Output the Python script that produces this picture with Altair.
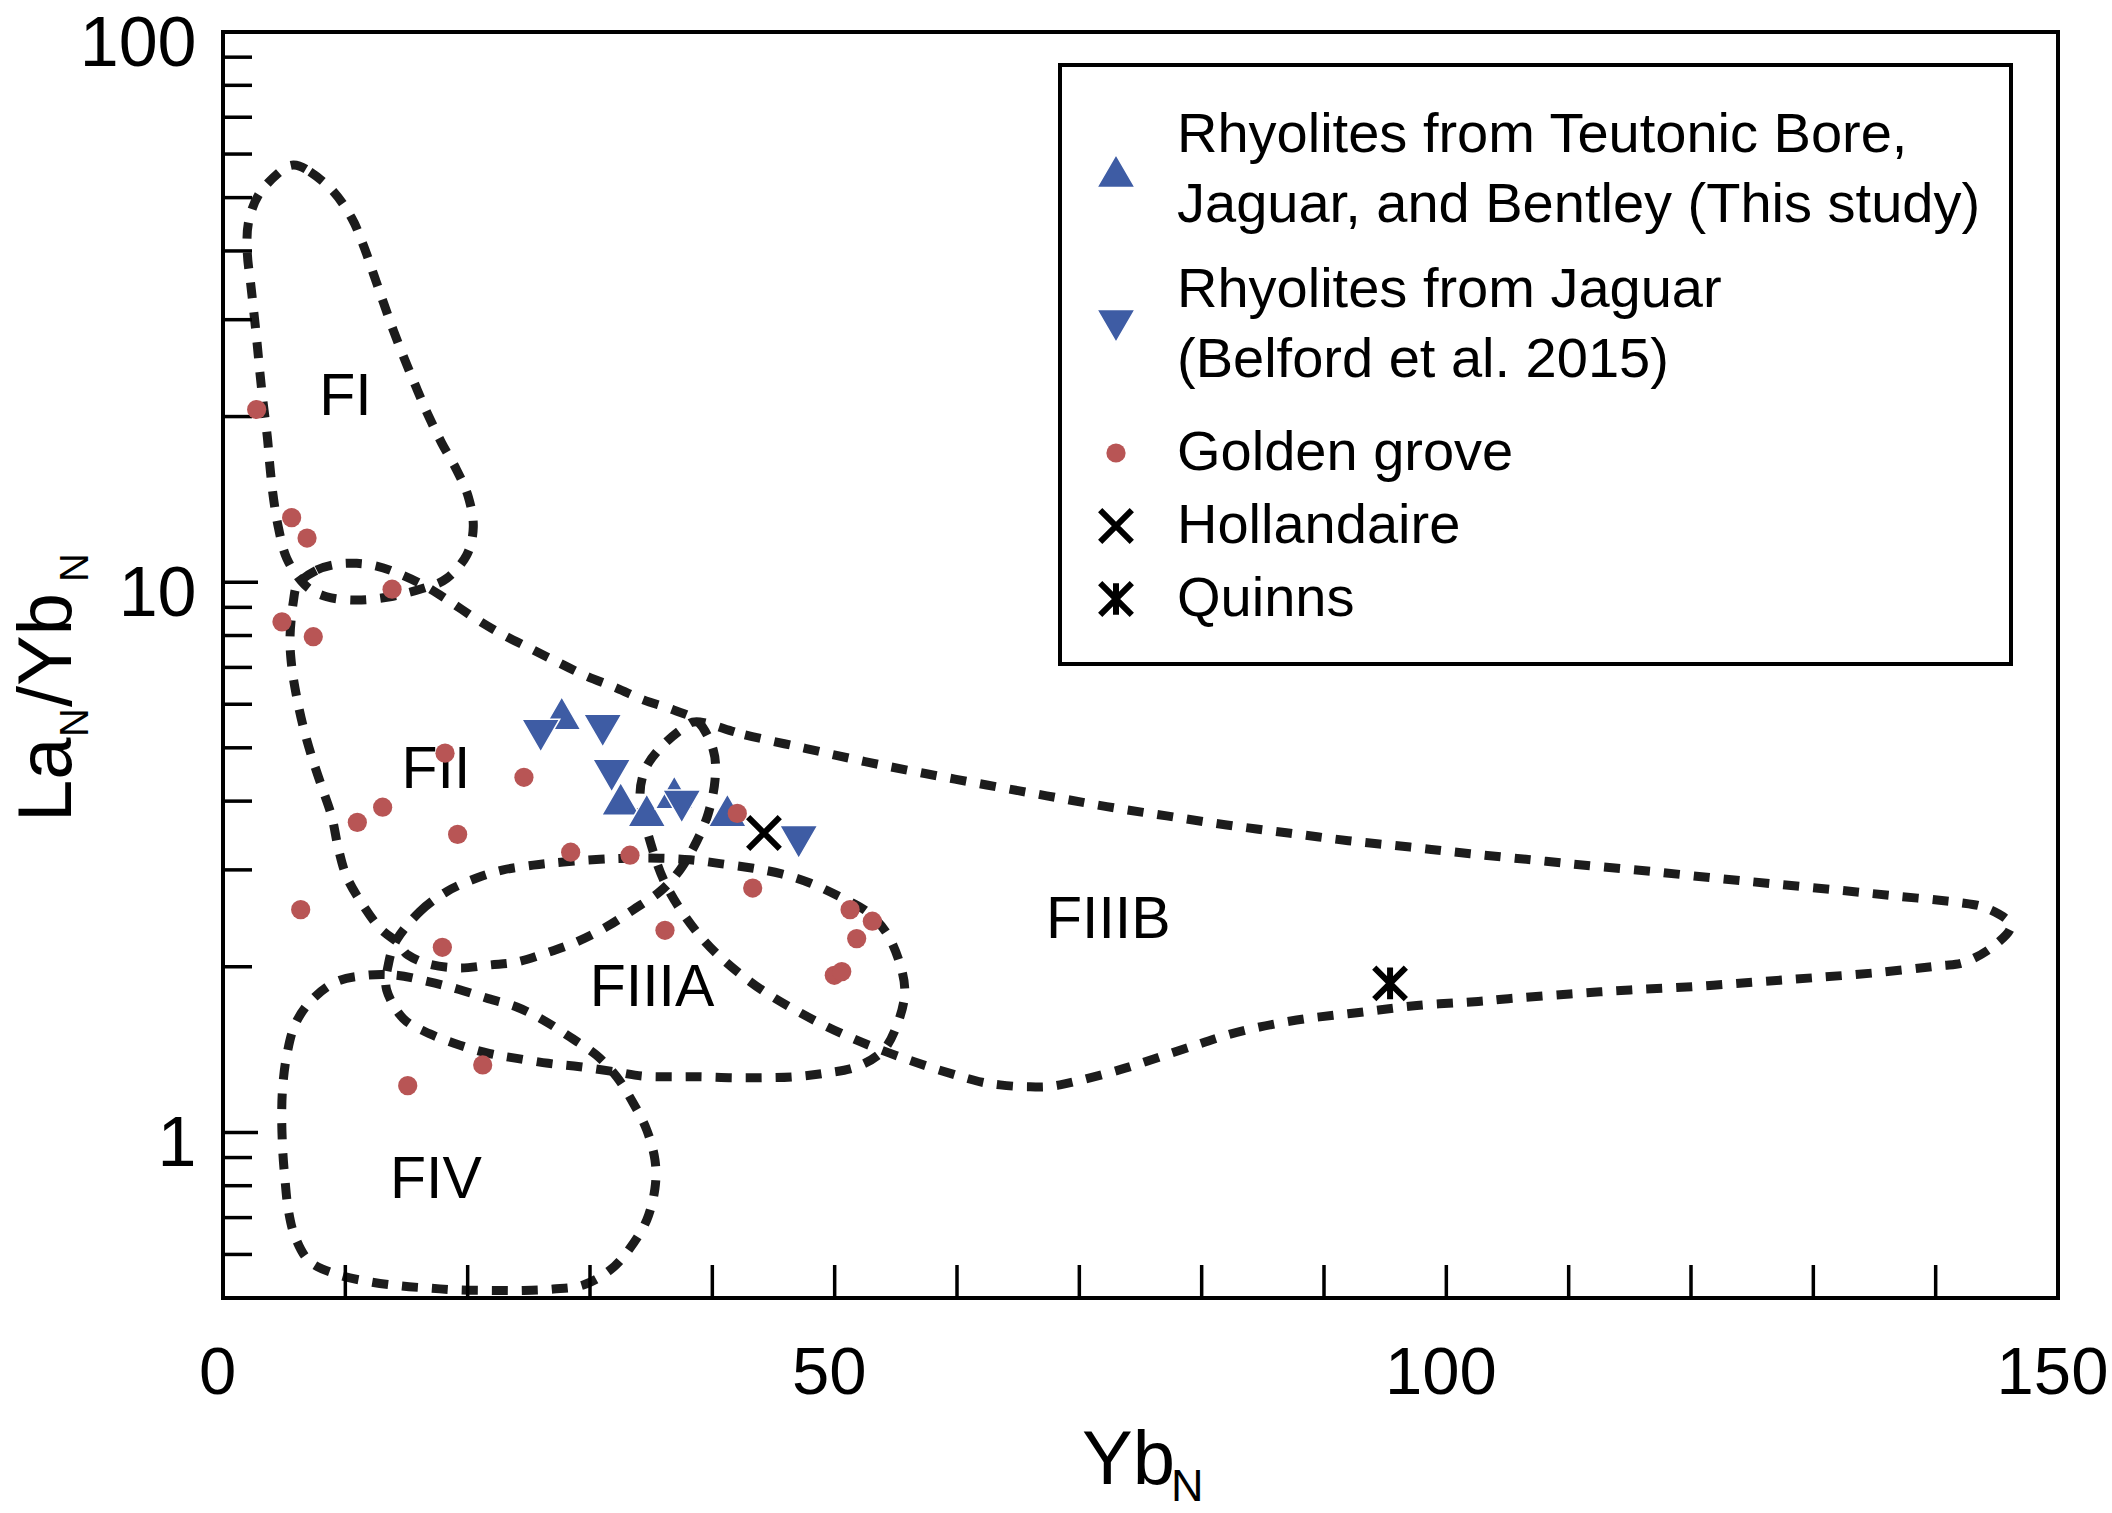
import altair as alt
import pandas as pd

FONT = "Liberation Sans"
W, H = 1835, 1266

# ---------------- scatter data ----------------
UP_X = [27.69, 32.51, 34.64, 36.89, 41.23]
UP_Y = [5.78, 4.04, 3.85, 4.15, 3.85]
DOWN_X = [25.97, 31.04, 31.77, 37.50, 47.06]
DOWN_Y = [5.26, 5.37, 4.45, 3.91, 3.37]
GG_X = [2.75, 5.61, 6.87, 13.82, 4.82, 7.38, 18.15, 24.6, 13.05, 10.98, 19.18, 28.42,
        33.27, 6.35, 17.93, 36.13, 43.3, 42.04, 51.26, 53.08, 51.8, 49.97, 50.58, 15.1, 21.23]
GG_Y = [20.6, 13.1, 12.03, 9.71, 8.47, 7.96, 4.89, 4.42, 3.90, 3.66, 3.48, 3.23,
        3.19, 2.54, 2.17, 2.33, 2.78, 3.80, 2.54, 2.42, 2.25, 1.93, 1.96, 1.216, 1.326]
HOL_X = [44.22]
HOL_Y = [3.50]
QUI_X = [95.4]
QUI_Y = [1.866]

S_UP = "Rhyolites from Teutonic Bore,|Jaguar, and Bentley (This study)"
S_DOWN = "Rhyolites from Jaguar|(Belford et al. 2015)"
S_GG = "Golden grove"
S_HOL = "Hollandaire"
S_QUI = "Quinns"
TRI_SERIES = [S_UP, S_DOWN]
OTHER_SERIES = [S_GG, S_HOL, S_QUI]

# ---------------- field outlines ----------------
FI_X = [5.75, 7.11, 9.02, 10.52, 11.47, 12.29, 13.10, 13.92, 14.88, 15.83, 16.78, 17.88,
        19.10, 20.05, 20.46, 19.92, 18.29, 16.37, 13.65, 10.93, 8.48, 6.70, 5.21, 4.52,
        4.11, 3.84, 3.62, 3.29, 3.02, 2.80, 2.53, 2.26, 1.99, 2.07, 2.89, 4.52]
FI_Y = [57.3, 55.7, 51.3, 45.9, 41.0, 36.4, 32.3, 28.7, 25.3, 22.5, 20.1, 17.9,
        16.0, 14.3, 12.6, 11.2, 10.16, 9.75, 9.41, 9.28, 9.41, 9.88, 11.05, 12.6,
        14.3, 16.2, 18.4, 21.1, 24.0, 27.0, 30.8, 34.9, 39.6, 44.9, 50.5, 55.4]

FII_X = [6.16, 7.66, 9.29, 10.93, 12.56, 14.20, 16.37, 18.56, 20.74, 22.91, 25.37, 27.55,
         29.73, 32.18, 34.36, 36.81, 38.83, 40.08, 40.22, 39.67, 38.72, 37.36, 35.72, 33.54,
         31.37, 28.91, 26.46, 24.01, 21.83, 19.37, 16.92, 15.12, 14.33, 12.83, 11.34, 10.11,
         9.43, 8.89, 8.07, 7.25, 6.56, 6.02, 5.62, 5.48, 5.75]
FII_Y = [9.95, 10.52, 10.78, 10.82, 10.70, 10.40, 9.88, 9.22, 8.56, 8.02, 7.53, 7.12,
         6.75, 6.42, 6.11, 5.86, 5.58, 4.95, 4.37, 3.80, 3.38, 3.00, 2.74, 2.54,
         2.365, 2.22, 2.12, 2.04, 2.015, 1.99, 2.02, 2.10, 2.21, 2.35, 2.61, 2.915,
         3.28, 3.75, 4.25, 4.82, 5.46, 6.19, 7.02, 7.96, 9.22]

FIIIA_X = [14.20, 16.10, 18.29, 20.74, 22.91, 25.37, 27.82, 30.82, 33.27, 35.72, 38.18, 40.63,
           43.35, 45.67, 47.98, 50.44, 52.62, 54.26, 55.32, 55.73, 55.20, 53.98, 51.80, 49.07,
           46.62, 44.17, 41.72, 38.99, 36.81, 34.36, 31.91, 29.18, 26.59, 24.01, 21.83, 19.37,
           16.92, 14.74, 13.38, 13.51]
FIIIA_Y = [2.24, 2.52, 2.74, 2.90, 3.00, 3.06, 3.10, 3.135, 3.15, 3.15, 3.13, 3.08,
           3.02, 2.95, 2.84, 2.68, 2.52, 2.30, 2.03, 1.80, 1.59, 1.41, 1.316, 1.28,
           1.262, 1.257, 1.257, 1.262, 1.262, 1.265, 1.29, 1.316, 1.335, 1.363, 1.39, 1.44,
           1.51, 1.61, 1.815, 2.015]

FIIIB_X = [38.99, 42.67, 47.58, 52.48, 57.39, 62.43, 67.33, 72.24, 77.14, 82.05, 87.09, 91.99,
           97.03, 101.94, 108.15, 111.89, 116.79, 121.83, 126.73, 131.77, 136.68, 141.72, 144.18,
           146.14, 144.72, 142.40, 140.09, 135.05, 130.0, 125.10, 120.06, 115.02, 110.11, 105.07,
           102.62, 97.58, 92.68, 87.77, 82.87, 78.23, 73.33, 68.42, 65.97, 63.52, 61.33, 56.43,
           51.52, 47.17, 43.08, 39.26, 36.27, 34.64, 34.09, 34.50, 35.72, 37.63]
FIIIB_Y = [5.57, 5.28, 4.99, 4.72, 4.49, 4.28, 4.09, 3.91, 3.76, 3.62, 3.50, 3.39,
           3.30, 3.21, 3.11, 3.05, 2.98, 2.90, 2.83, 2.76, 2.69, 2.62, 2.555,
           2.38, 2.18, 2.04, 2.006, 1.95, 1.91, 1.875, 1.84, 1.815, 1.785, 1.75,
           1.73, 1.70, 1.65, 1.60, 1.52, 1.41, 1.30, 1.22, 1.21, 1.22, 1.245, 1.345,
           1.48, 1.65, 1.88, 2.24, 2.80, 3.545, 4.08, 4.56, 4.99, 5.43]

FIV_X = [11.75, 14.20, 16.78, 19.23, 21.69, 24.01, 26.18, 28.37, 30.55, 32.18, 33.54, 34.64,
         35.31, 35.31, 34.64, 33.27, 31.64, 29.45, 27.00, 24.55, 22.10, 19.37, 16.92, 14.47,
         12.02, 9.43, 7.11, 5.89, 5.34, 5.07, 4.88, 4.80, 4.88, 5.21, 5.89, 7.25, 9.29]
FIV_Y = [1.93, 1.93, 1.88, 1.82, 1.75, 1.69, 1.60, 1.49, 1.38, 1.262, 1.13, 1.01,
         0.891, 0.791, 0.693, 0.616, 0.562, 0.528, 0.519, 0.516, 0.516, 0.517, 0.521, 0.526,
         0.535, 0.551, 0.582, 0.646, 0.723, 0.819, 0.929, 1.068, 1.21, 1.38, 1.57, 1.74, 1.88]

REGION_NAMES = ["FI", "FII", "FIIIA", "FIIIB", "FIV"]
REGION_LABEL_X = [10.01, 17.40, 35.07, 72.37, 17.40]
REGION_LABEL_Y = [21.7, 4.55, 1.83, 2.43, 0.819]

# ---------------- axis ticks ----------------
X_LABELS = [0, 50, 100, 150]
Y_LABELS = [1, 10, 100]
X_TICKS = [10, 20, 30, 40, 50, 60, 70, 80, 90, 100, 110, 120, 130, 140]
Y_MAJOR = [1, 10]
Y_MINOR = [0.6, 0.7, 0.8, 0.9, 2, 3, 4, 5, 6, 7, 8, 9, 20, 30, 40, 50, 60, 70, 80, 90]

# ---------------- tables ----------------
tri_df = pd.DataFrame({
    "x": UP_X + DOWN_X,
    "y": UP_Y + DOWN_Y,
    "series": [S_UP] * len(UP_X) + [S_DOWN] * len(DOWN_X),
})
oth_df = pd.DataFrame({
    "x": GG_X + HOL_X + QUI_X,
    "y": GG_Y + HOL_Y + QUI_Y,
    "series": [S_GG] * len(GG_X) + [S_HOL] * len(HOL_X) + [S_QUI] * len(QUI_X),
})

rows = []
for name, xs_, ys_ in [("FI", FI_X, FI_Y), ("FII", FII_X, FII_Y), ("FIIIA", FIIIA_X, FIIIA_Y),
                       ("FIIIB", FIIIB_X, FIIIB_Y), ("FIV", FIV_X, FIV_Y)]:
    for i, (a, b) in enumerate(zip(xs_, ys_)):
        rows.append({"region": name, "i": i, "x": a, "y": b})
curve_df = pd.DataFrame(rows)
region_df = pd.DataFrame({"name": REGION_NAMES, "x": REGION_LABEL_X, "y": REGION_LABEL_Y})

# ---------------- scales / axes ----------------
xsc = alt.Scale(domain=[0, 150], nice=False, zero=False)
ysc = alt.Scale(type="log", domain=[0.5, 100], nice=False)
xaxis = alt.Axis(values=X_LABELS, format="d", title=None, ticks=False, tickSize=0, domain=False,
                 grid=False, labelFont=FONT, labelFontSize=67, labelColor="black",
                 labelPadding=42, labelFlush=False, labelOffset=-6)
yaxis = alt.Axis(values=Y_LABELS, format="~g", title=None, ticks=False, tickSize=0, domain=False,
                 grid=False, labelFont=FONT, labelFontSize=70, labelColor="black",
                 labelPadding=27, labelOffset=12)


def xenc(f):
    return alt.X(f"{f}:Q", scale=xsc, axis=xaxis)


def yenc(f):
    return alt.Y(f"{f}:Q", scale=ysc, axis=yaxis)


BLUE = "#3E5CA4"
RED = "#B85555"
X_PATH = "M-1,-1L1,1M-1,1L1,-1"
AST_PATH = "M-1,-1L1,1M-1,1L1,-1M0,-1L0,1"

curves = alt.Chart(curve_df).mark_line(
    interpolate="cardinal-closed", strokeDash=[16, 14], strokeWidth=9, color="#1c1c1c"
).encode(x=xenc("x"), y=yenc("y"), detail="region:N", order=alt.Order("i:Q"))

xticks = alt.Chart(pd.DataFrame({"v": X_TICKS})).mark_rule(color="black", strokeWidth=3.5).encode(
    x=xenc("v"), y=alt.value(H), y2=alt.value(H - 33))
ymaj = alt.Chart(pd.DataFrame({"v": Y_MAJOR})).mark_rule(color="black", strokeWidth=3.5).encode(
    y=yenc("v"), x=alt.value(0), x2=alt.value(35))
ymin = alt.Chart(pd.DataFrame({"v": Y_MINOR})).mark_rule(color="black", strokeWidth=3.5).encode(
    y=yenc("v"), x=alt.value(0), x2=alt.value(29))

region_labels = alt.Chart(region_df).mark_text(
    font=FONT, fontSize=59, color="black", align="center", baseline="middle"
).encode(x=xenc("x"), y=yenc("y"), text="name:N")

common_leg = dict(title=None, orient="none", legendX=865, padding=0, labelOffset=33,
                  labelFont=FONT, labelFontSize=56, labelLimit=2000, labelColor="black",
                  labelExpr="split(datum.label, '|')", symbolOpacity=1)
leg_tri = alt.Legend(legendY=111, rowPadding=29, labelBaseline="line-bottom", **common_leg)
leg_oth = alt.Legend(legendY=393, rowPadding=17, labelBaseline="middle", **common_leg)

tri_pts = alt.Chart(tri_df).mark_point(filled=True, opacity=1).encode(
    x=xenc("x"), y=yenc("y"),
    shape=alt.Shape("series:N", scale=alt.Scale(domain=TRI_SERIES,
                    range=["triangle-up", "triangle-down"]), legend=leg_tri),
    fill=alt.Fill("series:N", scale=alt.Scale(domain=TRI_SERIES, range=[BLUE, BLUE]),
                  legend=leg_tri),
    stroke=alt.Stroke("series:N", scale=alt.Scale(domain=TRI_SERIES, range=["white", "white"]),
                      legend=leg_tri),
    size=alt.Size("series:N", scale=alt.Scale(type="ordinal", domain=TRI_SERIES,
                  range=[1450, 1450]), legend=leg_tri),
    strokeWidth=alt.StrokeWidth("series:N", scale=alt.Scale(type="ordinal", domain=TRI_SERIES,
                                range=[1.5, 1.5]), legend=leg_tri),
)

oth_pts = alt.Chart(oth_df).mark_point(filled=True, opacity=1).encode(
    x=xenc("x"), y=yenc("y"),
    shape=alt.Shape("series:N", scale=alt.Scale(domain=OTHER_SERIES,
                    range=["circle", X_PATH, AST_PATH]), legend=leg_oth),
    fill=alt.Fill("series:N", scale=alt.Scale(domain=OTHER_SERIES, range=[RED, "black", "black"]),
                  legend=leg_oth),
    stroke=alt.Stroke("series:N", scale=alt.Scale(domain=OTHER_SERIES,
                      range=[RED, "black", "black"]), legend=leg_oth),
    size=alt.Size("series:N", scale=alt.Scale(type="ordinal", domain=OTHER_SERIES,
                  range=[370, 1000, 1000]), legend=leg_oth),
    strokeWidth=alt.StrokeWidth("series:N", scale=alt.Scale(type="ordinal", domain=OTHER_SERIES,
                                range=[0, 6, 6]), legend=leg_oth),
)

legend_frame = alt.Chart(pd.DataFrame({"a": [0]})).mark_rect(
    fillOpacity=0, stroke="black", strokeWidth=4
).encode(x=alt.value(837), x2=alt.value(1788), y=alt.value(33), y2=alt.value(632))


def txt(s, x, y, fs, angle=0):
    return alt.Chart(pd.DataFrame({"t": [s]})).mark_text(
        font=FONT, fontSize=fs, align="left", baseline="alphabetic", angle=angle, color="black"
    ).encode(text="t:N", x=alt.value(x), y=alt.value(y))


titles = [
    txt("Yb", 859, 1452, 76),
    txt("N", 948, 1469, 45),
    txt("La", -152, 790, 76, 270),
    txt("N", -135, 705, 40, 270),
    txt("/Yb", -152, 675, 76, 270),
    txt("N", -135, 550, 40, 270),
]

chart = alt.layer(curves, xticks, ymaj, ymin, region_labels, legend_frame, tri_pts, oth_pts,
                  *titles).resolve_scale(
    shape="independent", fill="independent", stroke="independent", size="independent",
    strokeWidth="independent",
).properties(
    width=W, height=H,
    padding={"left": 223, "top": 32, "right": 54, "bottom": 215},
    autosize=alt.AutoSizeParams(type="none"),
).configure(
    view=alt.ViewConfig(stroke="black", strokeWidth=4),
    style={"guide-label": {"lineHeight": 70}},
)

chart.save("out.html", embed_options={"renderer": "svg", "actions": False})
